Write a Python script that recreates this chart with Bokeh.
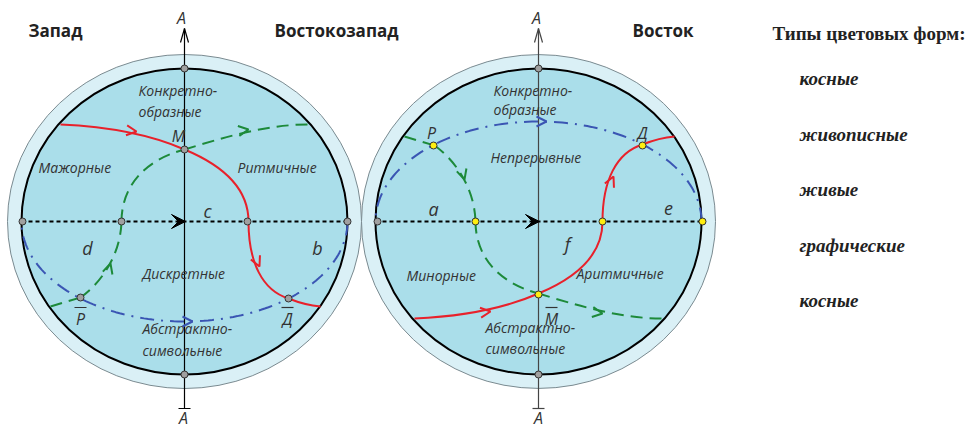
import numpy as np
from bokeh.plotting import figure
from bokeh.models import Range1d, Arrow, OpenHead, VeeHead
from bokeh.core.properties import value
from bokeh.embed import file_html
from bokeh.resources import INLINE

# ---------------- data (image pixel coordinates) ----------------
centers_x = [184, 538]
center_y = 221
inner_rx, inner_ry = 163, 153
outer_rx, outer_ry = 177, 167
blue_ry = 100
mirror_dx = 354

# left-circle curves as cubic Bezier segments: x0,y0,cx0,cy0,cx1,cy1,x1,y1
red_segs = [
    (60, 124, 105, 126, 150, 134, 184, 149),
    (184, 149, 225, 166, 248, 190, 248, 221),
    (248, 221, 248, 262, 262, 290, 288, 298),
    (288, 298, 298, 302, 308, 305, 320, 306),
]
green_segs = [
    (50, 306, 60, 303, 70, 300, 80, 297),
    (80, 297, 100, 283, 120, 255, 121, 221),
    (121, 221, 121, 188, 142, 160, 184, 149),
    (184, 149, 220, 138, 265, 124, 307, 124),
]
# arrow marks on left curves: x, y, dx, dy, colour
left_arrows = [
    (136, 131, 1.0, 0.12, "#e8212b"),
    (259, 266, 0.45, 1.0, "#e8212b"),
    (110, 263, 0.3, -1.0, "#1d8a3a"),
    (248, 129, 1.0, -0.15, "#1d8a3a"),
]
# nodes
gray_pts_x = [22, 121, 247, 347, 184, 184, 184, 80, 288, 377, 538, 538]
gray_pts_y = [221, 221, 221, 221, 68, 374, 149, 297, 298, 221, 68, 374]
yellow_pts_x = [475, 602, 702, 433, 642, 538]
yellow_pts_y = [221, 221, 221, 145, 145, 294]

titles = ["Запад", "Востокозапад", "Восток"]
titles_x = [28, 274, 632]
titles_y = [30, 30, 30]

region_labels = ["Конкретно-", "образные", "Мажорные", "Ритмичные", "Дискретные",
                 "Абстрактно-", "символьные",
                 "Конкретно-", "образные", "Непрерывные", "Минорные", "Аритмичные",
                 "Абстрактно-", "символьные"]
region_x = [138, 138, 38, 237, 142, 142, 142, 493, 493, 490, 406, 576, 485, 485]
region_y = [90, 111, 167, 167, 273, 328, 350, 90, 109, 157, 275, 273, 327, 348]

letters = ["c", "d", "b", "a", "e", "f"]
letters_x = [207, 87, 317, 433, 668, 567]
letters_y = [210, 247, 247, 208, 208, 243]

points_lbl = ["M", "P", "Д", "P", "Д", "M", "A", "A", "A", "A"]
points_lbl_x = [178, 80, 287, 431, 642, 551, 181, 183, 536, 538]
points_lbl_y = [135, 318, 318, 132, 132, 318, 17, 417, 17, 417]
overlined = [False, True, True, False, False, True, False, False, False, False]

legend_title = "Типы цветовых форм:"
legend_items = ["косные", "живописные", "живые", "графические", "косные"]
legend_y = [78, 134, 189, 245, 300]

# ---------------- figure ----------------
W, H = 968, 429
p = figure(width=W, height=H, x_range=Range1d(0, W), y_range=Range1d(H, 0),
           output_backend="svg", toolbar_location=None, min_border=0)
p.axis.visible = False
p.grid.visible = False
p.outline_line_color = None
p.background_fill_color = "white"

RED, GREEN, BLUE = "#e8212b", "#1d8a3a", "#3a55b3"

# rings
p.ellipse(x=centers_x, y=[center_y] * 2, width=2 * outer_rx, height=2 * outer_ry,
          fill_color="#daf0f6", line_color="#7a8a90", line_width=1)
p.ellipse(x=centers_x, y=[center_y] * 2, width=2 * inner_rx, height=2 * inner_ry,
          fill_color="#aadeea", line_color="black", line_width=2)

# blue dash-dot half ellipses (lower on left, upper on right)
t = np.linspace(0, np.pi, 120)
bx_l = centers_x[0] + inner_rx * np.cos(t)
by_l = center_y + blue_ry * np.sin(t)
bx_r = centers_x[1] + inner_rx * np.cos(t)
by_r = center_y - blue_ry * np.sin(t)
p.multi_line(xs=[list(bx_l), list(bx_r)], ys=[list(by_l), list(by_r)],
             line_color=BLUE, line_width=2, line_dash="14 7 2 7")

# black dotted horizontal diameters
for cx in centers_x:
    p.line([cx - inner_rx, cx + inner_rx], [center_y, center_y],
           line_color="black", line_width=2, line_dash="4 3")

# vertical axes
for cx, col in zip(centers_x, ["black", "#444444"]):
    p.line([cx, cx], [28, 408], line_color=col, line_width=1.2)
    p.segment(x0=[cx - 4, cx + 4], y0=[42, 42], x1=[cx, cx], y1=[28, 28],
              line_color=col, line_width=1.2)
    p.line([cx - 6, cx + 6], [408, 408], line_color=col, line_width=1.2)


def draw_segs(segs, color, dash, mirror=False):
    s = np.array(segs, dtype=float)
    if mirror:
        s[:, 0::2] += mirror_dx
        s[:, 1::2] = 2 * center_y - s[:, 1::2]
    p.bezier(x0=s[:, 0], y0=s[:, 1], cx0=s[:, 2], cy0=s[:, 3], cx1=s[:, 4], cy1=s[:, 5],
             x1=s[:, 6], y1=s[:, 7], line_color=color, line_width=2, line_dash=dash)


draw_segs(red_segs, RED, "solid")
draw_segs(green_segs, GREEN, "12 7")
draw_segs(red_segs, RED, "solid", mirror=True)
draw_segs(green_segs, GREEN, "12 7", mirror=True)


def arrow_at(x, y, dx, dy, color, size=10, head=None):
    n = (dx * dx + dy * dy) ** 0.5
    if head is None:
        head = OpenHead(size=size, line_color=color, line_width=2)
    p.add_layout(Arrow(end=head, x_start=x - dx / n, y_start=y - dy / n, x_end=x, y_end=y,
                       line_alpha=0))


for (x, y, dx, dy, c) in left_arrows:
    arrow_at(x, y, dx, dy, c)
    arrow_at(x + mirror_dx, 2 * center_y - y, dx, -dy, c)
arrow_at(centers_x[0] + 8, center_y + blue_ry, 1, 0, BLUE)
arrow_at(centers_x[1] + 8, center_y - blue_ry, 1, 0, BLUE)
for cx in centers_x:
    arrow_at(cx + 1, center_y, 1, 0, "black",
             head=VeeHead(size=14, fill_color="black", line_color="black", line_width=1))

# nodes
p.scatter(gray_pts_x, gray_pts_y, size=7, fill_color="#a0a0a0", line_color="#333333", line_width=1)
p.scatter(yellow_pts_x, yellow_pts_y, size=7, fill_color="#ffee10", line_color="#333333", line_width=1)

# texts
p.text(titles_x, titles_y, text=titles, text_font=value("Open Sans"), text_font_style="bold",
       text_font_size="17px", text_color="#222222", text_baseline="middle", text_align="left")
p.text(region_x, region_y, text=region_labels, text_font=value("Open Sans"),
       text_font_style="italic", text_font_size="14px", text_color="#333333",
       text_baseline="middle", text_align="left")
p.text(letters_x, letters_y, text=letters, text_font=value("Open Sans"),
       text_font_style="italic", text_font_size="18px", text_color="#333333",
       text_baseline="middle", text_align="center")
p.text(points_lbl_x, points_lbl_y, text=points_lbl, text_font=value("Open Sans"),
       text_font_style="italic", text_font_size="16px", text_color="#333333",
       text_baseline="middle", text_align="center")
ol_x0 = [x - 6 for x, o in zip(points_lbl_x, overlined) if o]
ol_x1 = [x + 6 for x, o in zip(points_lbl_x, overlined) if o]
ol_y = [y - 11 for y, o in zip(points_lbl_y, overlined) if o]
p.segment(x0=ol_x0, y0=ol_y, x1=ol_x1, y1=ol_y, line_color="#333333", line_width=1.2)

p.text([772], [33], text=[legend_title], text_font=value("Liberation Serif"),
       text_font_style="bold", text_font_size="19px", text_color="#222222",
       text_baseline="middle", text_align="left")
p.text([799] * len(legend_items), legend_y, text=legend_items, text_font=value("Liberation Serif"),
       text_font_style="bold italic", text_font_size="19px", text_color="#222222",
       text_baseline="middle", text_align="left")

open("out.html", "w").write(file_html(p, INLINE))
